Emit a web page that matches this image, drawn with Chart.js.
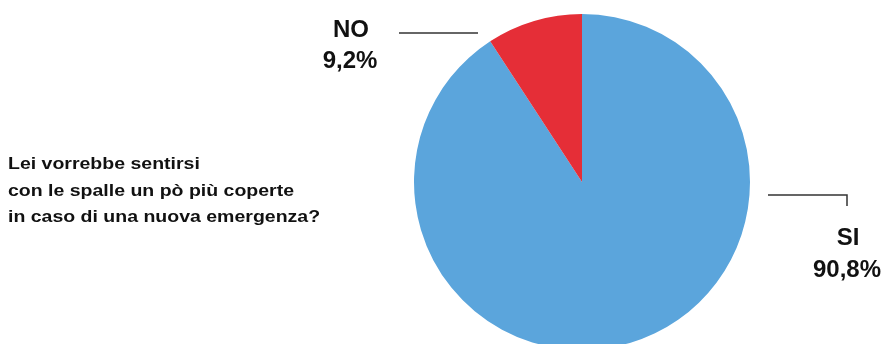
<!DOCTYPE html>
<html>
<head>
<meta charset="utf-8">
<script src="https://cdn.jsdelivr.net/npm/chart.js@4/dist/chart.umd.min.js"></script>
<style>
  html, body { margin: 0; padding: 0; background: #fff; overflow: hidden; }
  #wrap { position: relative; width: 886px; height: 344px; overflow: hidden; }
  #pie { position: absolute; left: 0; top: 0; }
  #question {
    position: absolute; left: 8px; top: 151px;
    font-family: "Liberation Sans", Arial, sans-serif;
    font-weight: bold; font-size: 17px; line-height: 26.7px;
    color: #111; white-space: nowrap;
    transform: scaleX(1.147); transform-origin: 0 0;
  }
</style>
</head>
<body>
<div id="wrap">
  <canvas id="pie" width="886" height="364"></canvas>
  <div id="question">Lei vorrebbe sentirsi<br>con le spalle un pò più coperte<br>in caso di una nuova emergenza?</div>
</div>
<script>
const categories = ['SI', 'NO'];
const values = [90.8, 9.2];
const colors = ['#5ba5dc', '#e52e37'];

const fmt = v => v.toFixed(1).replace('.', ',') + '%';

// callout lines and labels, placed relative to the pie centre
const callouts = {
    id: 'callouts',
    afterDraw(chart) {
        const arc = chart.getDatasetMeta(0).data[0];
        const cx = arc.x, cy = arc.y;
        const ctx = chart.ctx;
        ctx.save();
        ctx.strokeStyle = '#333';
        ctx.lineWidth = 1.5;

        // NO
        ctx.beginPath();
        ctx.moveTo(cx - 183, cy - 149);
        ctx.lineTo(cx - 104, cy - 149);
        ctx.stroke();

        // SI
        ctx.beginPath();
        ctx.moveTo(cx + 186, cy + 13);
        ctx.lineTo(cx + 265, cy + 13);
        ctx.lineTo(cx + 265, cy + 24);
        ctx.stroke();

        ctx.fillStyle = '#111';
        ctx.font = 'bold 24px "Liberation Sans", Arial, sans-serif';
        ctx.textAlign = 'center';
        ctx.textBaseline = 'alphabetic';
        ctx.fillText(categories[1], cx - 231, cy - 145);
        ctx.fillText(fmt(values[1]), cx - 232, cy - 114);
        ctx.fillText(categories[0], cx + 266, cy + 63);
        ctx.fillText(fmt(values[0]), cx + 265, cy + 95);
        ctx.restore();
    }
};

new Chart(document.getElementById('pie'), {
    type: 'pie',
    data: {
        labels: categories,
        datasets: [{
            data: values,
            backgroundColor: colors,
            borderWidth: 0
        }]
    },
    options: {
        responsive: false,
        animation: false,
        rotation: 0,
        layout: { padding: { left: 414, right: 136, top: 14, bottom: 14 } },
        plugins: {
            legend: { display: false },
            tooltip: { enabled: false }
        }
    },
    plugins: [callouts]
});
</script>
</body>
</html>
